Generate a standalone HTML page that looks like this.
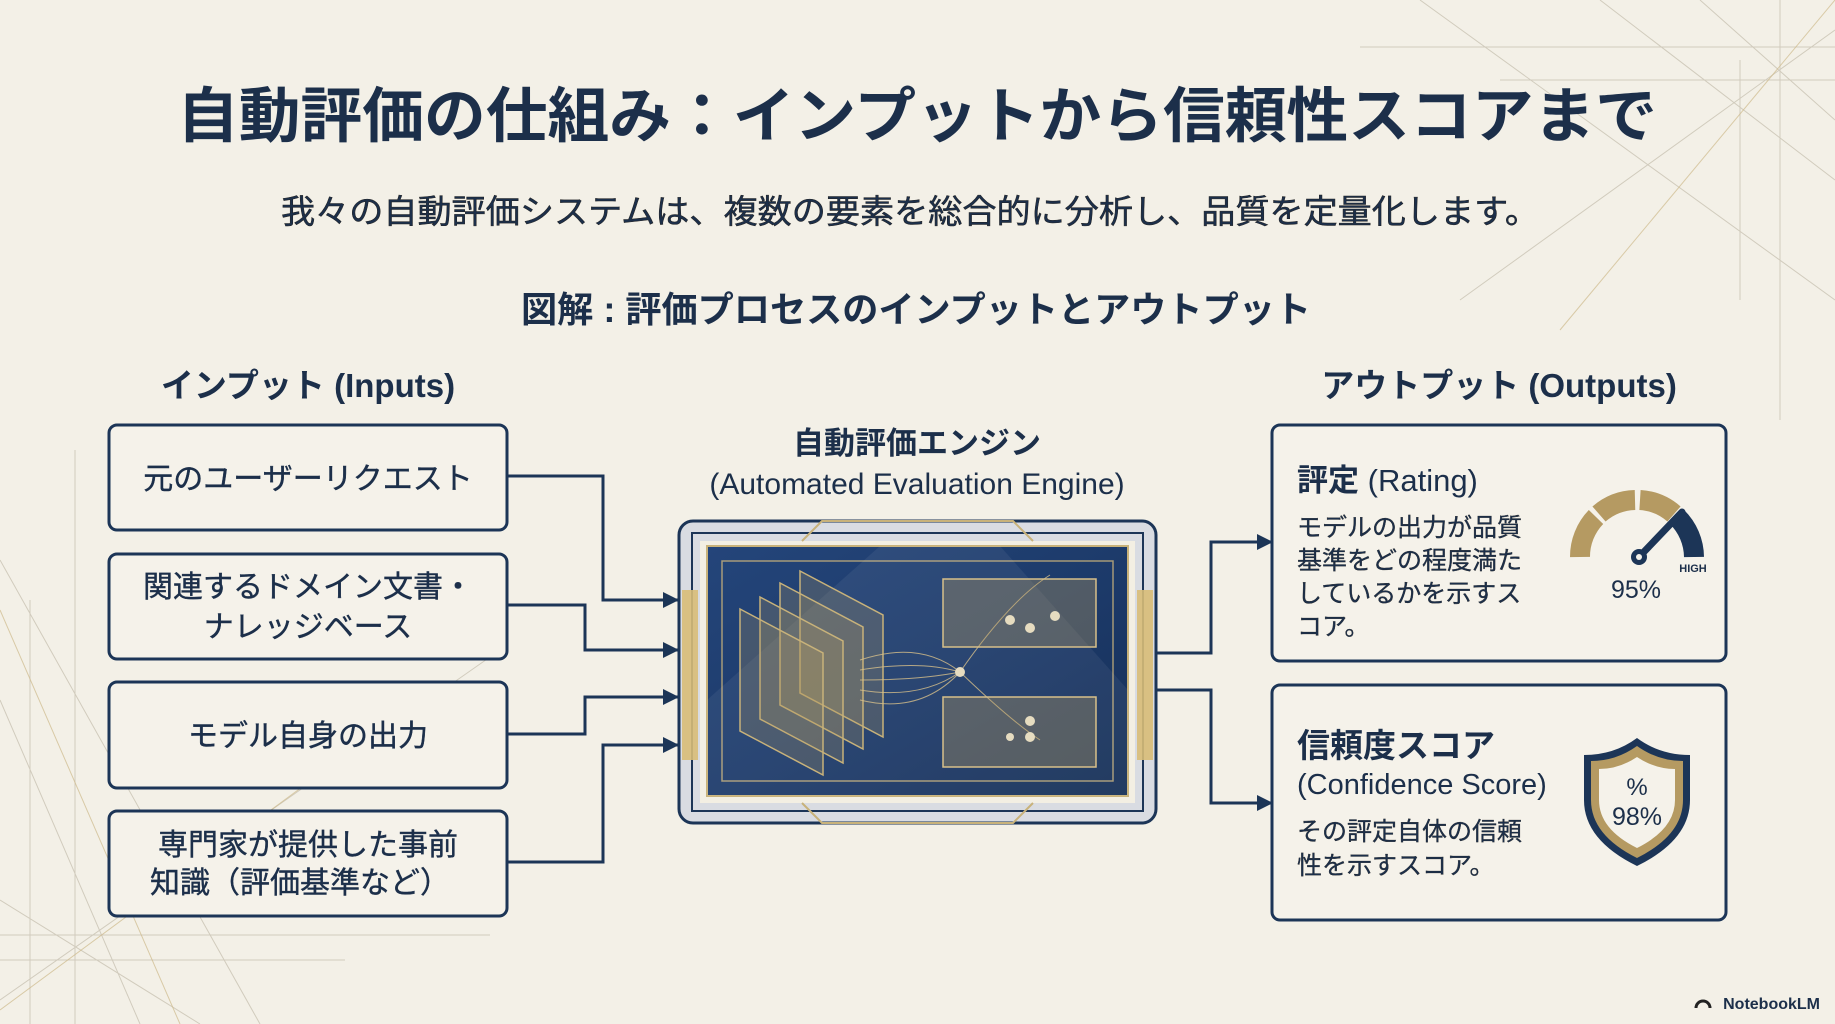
<!DOCTYPE html>
<html><head><meta charset="utf-8"><style>
html,body{margin:0;padding:0;background:#f3f0e7;}
svg{display:block}
text{font-family:"Liberation Sans","Noto Sans CJK JP",sans-serif;fill:#1c2f4a}
</style></head><body>
<svg width="1835" height="1024" viewBox="0 0 1835 1024" xmlns="http://www.w3.org/2000/svg">
<defs>
<marker id="ar" markerWidth="16" markerHeight="16" refX="15" refY="8" orient="auto" markerUnits="userSpaceOnUse"><path d="M0,0 L16,8 L0,16 z" fill="#1c3557"/></marker>
<linearGradient id="scr" x1="0" y1="0" x2="1" y2="1"><stop offset="0" stop-color="#24457a"/><stop offset="0.5" stop-color="#1d3b6b"/><stop offset="1" stop-color="#162f57"/></linearGradient>
</defs>
<rect width="1835" height="1024" fill="#f3f0e7"/>
<g stroke="#c9c3b3" stroke-width="1" fill="none" opacity="0.8">
<line x1="1360" y1="47" x2="1835" y2="47"/><line x1="1420" y1="0" x2="1835" y2="300"/><line x1="1600" y1="0" x2="1835" y2="180"/>
<line x1="1780" y1="0" x2="1780" y2="420"/><line x1="1740" y1="60" x2="1740" y2="300"/><line x1="1500" y1="80" x2="1835" y2="80"/>
<line x1="1835" y1="30" x2="1460" y2="300"/><line x1="1700" y1="0" x2="1835" y2="120"/>
<line x1="0" y1="560" x2="260" y2="1024"/><line x1="0" y1="700" x2="140" y2="1024"/><line x1="75" y1="450" x2="75" y2="1024"/>
<line x1="0" y1="935" x2="490" y2="935"/><line x1="0" y1="960" x2="345" y2="960"/><line x1="0" y1="900" x2="200" y2="1024"/>
<line x1="0" y1="1000" x2="500" y2="650"/><line x1="30" y1="600" x2="30" y2="1024"/>
</g>
<g stroke="#cdb98a" stroke-width="1" fill="none" opacity="0.7">
<line x1="1835" y1="0" x2="1560" y2="330"/><line x1="0" y1="610" x2="180" y2="1024"/><line x1="0" y1="1010" x2="420" y2="700"/>
</g>
<text x="917" y="137" text-anchor="middle" font-size="60" font-weight="bold" fill="#1c3557" textLength="1480" lengthAdjust="spacingAndGlyphs">自動評価の仕組み：インプットから信頼性スコアまで</text>
<text x="910" y="223" text-anchor="middle" font-size="33" fill="#222" stroke="#222" stroke-width="0.5" textLength="1258" lengthAdjust="spacingAndGlyphs">我々の自動評価システムは、複数の要素を総合的に分析し、品質を定量化します。</text>
<text x="916" y="322" text-anchor="middle" font-size="36" font-weight="bold" fill="#222" textLength="790" lengthAdjust="spacingAndGlyphs">図解 : 評価プロセスのインプットとアウトプット</text>
<text x="308" y="397" text-anchor="middle" font-size="33" font-weight="bold" fill="#1c3557">インプット (Inputs)</text>
<text x="1499" y="397" text-anchor="middle" font-size="33" font-weight="bold" fill="#1c3557">アウトプット (Outputs)</text>
<g fill="#f5f2ea" stroke="#1c3557" stroke-width="3">
<rect x="109" y="425" width="398" height="105" rx="8"/>
<rect x="109" y="554" width="398" height="105" rx="8"/>
<rect x="109" y="682" width="398" height="106" rx="8"/>
<rect x="109" y="811" width="398" height="105" rx="8"/>
</g>
<g font-size="30" text-anchor="middle" stroke="#1c2f4a" stroke-width="0.4">
<text x="308" y="489">元のユーザーリクエスト</text>
<text x="308" y="597">関連するドメイン文書・</text>
<text x="308" y="637">ナレッジベース</text>
<text x="308" y="746">モデル自身の出力</text>
<text x="308" y="855">専門家が提供した事前</text>
<text x="300" y="893">知識（評価基準など）</text>
</g>
<g stroke="#1c3557" stroke-width="3" fill="none" marker-end="url(#ar)">
<polyline points="507,476 603,476 603,600 678,600"/>
<polyline points="507,605 585,605 585,650 678,650"/>
<polyline points="507,734 585,734 585,697 678,697"/>
<polyline points="507,862 603,862 603,745 678,745"/>
<polyline points="1156,653 1211,653 1211,542 1272,542"/>
<polyline points="1156,690 1211,690 1211,803 1272,803"/>
</g>
<text x="917" y="454" text-anchor="middle" font-size="31" font-weight="bold" fill="#1c3557">自動評価エンジン</text>
<text x="917" y="494" text-anchor="middle" font-size="30" fill="#1c3557">(Automated Evaluation Engine)</text>
<rect x="679" y="521" width="477" height="302" rx="14" fill="#d9dce2" stroke="#1c3557" stroke-width="3"/>
<rect x="692" y="533" width="451" height="278" fill="none" stroke="#1c3557" stroke-width="2"/>
<rect x="700" y="541" width="435" height="262" fill="#f3efe3"/>
<g fill="#d8bd78" opacity="0.9"><rect x="682" y="590" width="16" height="170"/><rect x="1137" y="590" width="16" height="170"/></g>
<rect x="707" y="546" width="421" height="250" fill="url(#scr)" stroke="#c8b27a" stroke-width="2"/>
<rect x="722" y="561" width="391" height="220" fill="none" stroke="#c8b27a" stroke-width="1.5" opacity="0.8"/>
<polygon points="707,796 707,700 880,546 1000,546 1128,690 1128,796" fill="#ffffff" opacity="0.06"/>
<g stroke="#c8b27a" stroke-width="1.5" fill="#b59a62" fill-opacity="0.25">
<polygon points="800,571 883,615 883,737 800,693"/>
<polygon points="780,583 863,627 863,749 780,705"/>
<polygon points="760,597 843,641 843,763 760,719"/>
<polygon points="740,609 823,653 823,775 740,731"/>
</g>
<g stroke="#d8c08a" stroke-width="1" fill="none" opacity="0.8">
<path d="M860,660 Q920,640 960,672"/><path d="M860,670 Q920,660 960,672"/><path d="M860,680 Q920,680 960,672"/><path d="M860,690 Q920,700 960,672"/><path d="M860,700 Q920,715 960,672"/>
<path d="M960,672 Q1010,600 1050,575"/><path d="M960,672 Q1010,720 1040,740"/>
</g>
<circle cx="960" cy="672" r="5" fill="#e6dcc0"/>
<g fill="#b59a62" fill-opacity="0.35" stroke="#d8c08a" stroke-width="1.5">
<rect x="943" y="579" width="153" height="68"/><rect x="943" y="697" width="153" height="70"/>
</g>
<g fill="#e6dcc0"><circle cx="1010" cy="620" r="5"/><circle cx="1030" cy="628" r="5"/><circle cx="1055" cy="616" r="5"/><circle cx="1010" cy="737" r="4"/><circle cx="1030" cy="721" r="5"/><circle cx="1030" cy="737" r="5"/></g>
<g stroke="#c8b27a" stroke-width="2" fill="none"><polyline points="802,541 822,521 1013,521 1033,541"/><polyline points="802,803 822,823 1013,823 1033,803"/></g>
<g fill="#f5f2ea" stroke="#1c3557" stroke-width="3">
<rect x="1272" y="425" width="454" height="236" rx="8"/>
<rect x="1272" y="685" width="454" height="235" rx="8"/>
</g>
<text x="1297" y="491" font-size="31" font-weight="bold" fill="#1c3557">評定 <tspan font-weight="normal">(Rating)</tspan></text>
<g font-size="25" fill="#222" stroke="#222" stroke-width="0.3">
<text x="1297" y="536">モデルの出力が品質</text>
<text x="1297" y="569">基準をどの程度満た</text>
<text x="1297" y="602">しているかを示すス</text>
<text x="1297" y="635">コア。</text>
</g>
<g fill="none" stroke-width="20">
<path d="M1580,557 A57,57 0 0 1 1596,517" stroke="#b59a62"/>
<path d="M1599,514 A57,57 0 0 1 1635,500" stroke="#b59a62"/>
<path d="M1640,500 A57,57 0 0 1 1674,514" stroke="#b59a62"/>
<path d="M1677,517 A57,57 0 0 1 1694,557" stroke="#1c3557"/>
</g>
<line x1="1639" y1="557" x2="1682" y2="512" stroke="#1c3557" stroke-width="7" stroke-linecap="round"/>
<circle cx="1639" cy="557" r="8" fill="#1c3557"/><circle cx="1639" cy="557" r="3" fill="#f5f2ea"/>
<text x="1693" y="572" font-size="11" font-weight="bold" fill="#1c3557" text-anchor="middle">HIGH</text>
<text x="1636" y="598" font-size="25" text-anchor="middle" fill="#1c3557">95%</text>
<text x="1297" y="757" font-size="33" font-weight="bold" fill="#1c3557">信頼度スコア</text>
<text x="1297" y="794" font-size="29" fill="#1c3557">(Confidence Score)</text>
<g font-size="25" fill="#222" stroke="#222" stroke-width="0.3"><text x="1297" y="840">その評定自体の信頼</text><text x="1297" y="874">性を示すスコア。</text></g>
<path d="M1637,738 Q1660,755 1690,755 L1690,800 Q1690,840 1637,866 Q1584,840 1584,800 L1584,755 Q1614,755 1637,738 z" fill="#1c3557"/>
<path d="M1637,746 Q1658,761 1683,761 L1683,800 Q1683,835 1637,858 Q1591,835 1591,800 L1591,761 Q1616,761 1637,746 z" fill="#b59a62"/>
<path d="M1637,757 Q1655,769 1675,769 L1675,800 Q1675,829 1637,848 Q1599,829 1599,800 L1599,769 Q1619,769 1637,757 z" fill="#f5f2ea"/>
<text x="1637" y="795" font-size="24" text-anchor="middle" fill="#b59a62">%</text>
<text x="1637" y="825" font-size="25" text-anchor="middle" fill="#1c3557">98%</text>
<text x="1820" y="1009" font-size="16" font-weight="bold" text-anchor="end" fill="#222">NotebookLM</text>
<path d="M1696,1008 A7,7 0 0 1 1710,1008" stroke="#222" stroke-width="3" fill="none"/>
</svg>
</body></html>
